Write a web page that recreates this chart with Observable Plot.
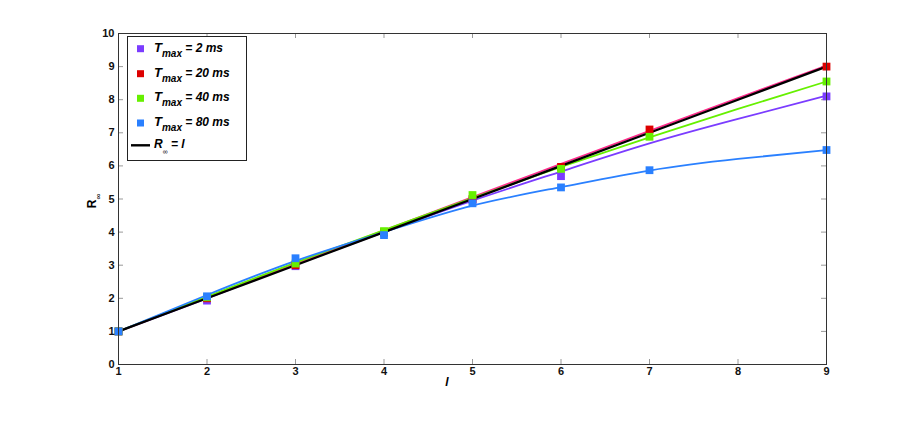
<!DOCTYPE html>
<html><head><meta charset="utf-8">
<script src="https://cdn.jsdelivr.net/npm/d3@7"></script>
<script src="https://cdn.jsdelivr.net/npm/@observablehq/plot@0.6"></script>
<style>body{margin:0;background:#fff;font-family:"Liberation Sans",Arial,sans-serif}#chart{position:relative;width:913px;height:436px}</style>
</head><body><div id="chart"></div>
<script>
// Measured points
const purpleL = [1,2,3,4,5,6,9];
const purpleR = [1.0,1.93,2.97,3.97,4.96,5.69,8.10];
const redL = [1,2,3,4,5,6,7,9];
const redR = [1.0,2.0,3.0,4.0,5.0,5.97,7.10,9.0];
const greenL = [1,2,3,4,5,6,7,9];
const greenR = [1.0,2.03,3.05,4.03,5.12,5.91,6.88,8.55];
const blueL = [1,2,3,4,5,6,7,9];
const blueR = [1.0,2.06,3.21,3.91,4.87,5.35,5.87,6.48];
// Fitted curves (read at l = 1..9)
const fitL = [1,2,3,4,5,6,7,8,9];
const purpleFit = [1.0,2.0,3.02,4.0,4.95,5.83,6.68,7.42,8.12];
const pinkFit = [1.0,2.02,3.04,4.05,5.06,6.06,7.06,8.05,9.03];
const greenFit = [1.0,2.05,3.08,4.06,5.03,5.97,6.86,7.72,8.55];
const blueFit = [1.0,2.1,3.13,4.0,4.80,5.36,5.86,6.21,6.48];
const identity = [1,2,3,4,5,6,7,8,9];
const xTicks = [1,2,3,4,5,6,7,8,9];
const yTicks = [0,1,2,3,4,5,6,7,8,9,10];
const seriesNames = ["2 ms","20 ms","40 ms","80 ms"];
const colors = ["#7b3cff","#dd0000","#66f000","#2a80ff"];
const pink = "#ff2c8c";

const W = 913, H = 436, mL = 118, mR = 87, mT = 33, mB = 72;
const pw = W - mL - mR, ph = H - mT - mB, tk = 5;

const pts = (L,R,s) => L.map((l,i)=>({l, r:R[i], s}));
const points = [...pts(purpleL,purpleR,0),...pts(redL,redR,1),...pts(greenL,greenR,2),...pts(blueL,blueR,3)];
const fits = [[purpleFit,colors[0]],[pinkFit,pink],[greenFit,colors[2]],[blueFit,colors[3]]];

const marks = [];
// inward ticks
marks.push(Plot.tickX(xTicks,{stroke:"#999",insetTop:ph-tk}));
marks.push(Plot.tickX(xTicks,{stroke:"#999",insetBottom:ph-tk}));
marks.push(Plot.tickY(yTicks,{stroke:"#999",insetRight:pw-tk}));
marks.push(Plot.tickY(yTicks,{stroke:"#999",insetLeft:pw-tk}));
for (const [f,c] of fits) marks.push(Plot.line(fitL.map((l,i)=>({l,r:f[i]})),{x:"l",y:"r",stroke:c,strokeWidth:1.8,curve:"natural"}));
marks.push(Plot.line(fitL.map((l,i)=>({l,r:identity[i]})),{x:"l",y:"r",stroke:"#000",strokeWidth:2.2}));
for (let s=0;s<4;s++) marks.push(Plot.dot(points.filter(d=>d.s===s),{x:"l",y:"r",symbol:"square",r:4.4,fill:colors[s],stroke:"none"}));
marks.push(Plot.frame({stroke:"#333",strokeWidth:1}));
marks.push(Plot.axisX(xTicks,{anchor:"bottom",tickSize:0,tickPadding:3,fontWeight:"bold",fontSize:11,fill:"#111",label:null}));
marks.push(Plot.axisY(yTicks,{anchor:"left",tickSize:0,tickPadding:4,fontWeight:"bold",fontSize:11,fill:"#111",label:null}));

const svgPlot = Plot.plot({
  width:W, height:H,
  marginLeft:mL, marginRight:mR, marginTop:mT, marginBottom:mB,
  x:{domain:[1,9]}, y:{domain:[0,10]},
  style:{fontFamily:"'Liberation Sans', Arial, sans-serif", background:"#fff"},
  marks
});
document.getElementById("chart").appendChild(svgPlot);

const svg = d3.select(svgPlot);
const font = "'Liberation Sans', Arial, sans-serif";
// axis labels
svg.append("text").attr("x",447).attr("y",386).attr("text-anchor","middle")
  .attr("font-family",font).attr("font-weight","bold").attr("font-style","italic").attr("font-size",12).text("l");
const yl = svg.append("text").attr("transform","translate(96,201) rotate(-90)").attr("text-anchor","middle")
  .attr("font-family",font).attr("font-weight","bold").attr("font-size",12);
yl.append("tspan").text("R");
yl.append("tspan").attr("dy",5).attr("font-size",8).attr("font-weight","normal").text("∞");

// legend
const lg = svg.append("g").attr("font-family",font).attr("text-anchor","start");
lg.append("rect").attr("x",127.5).attr("y",36.5).attr("width",119).attr("height",124).attr("fill","#fff").attr("stroke","#222").attr("stroke-width",1);
const rowY = [48.7,73.7,98.3,123];
seriesNames.forEach((n,i)=>{
  lg.append("rect").attr("x",137).attr("y",rowY[i]-3.5).attr("width",7).attr("height",7).attr("fill",colors[i]);
  const t = lg.append("text").attr("x",154).attr("y",rowY[i]+3).attr("text-anchor","start").attr("font-weight","bold").attr("font-style","italic").attr("font-size",13);
  t.append("tspan").text("T");
  t.append("tspan").attr("dy",5).attr("font-size",10).text("max");
  t.append("tspan").attr("dy",-5).attr("font-size",12).text(" = " + n);
});
lg.append("line").attr("x1",131).attr("x2",150).attr("y1",145.3).attr("y2",145.3).attr("stroke","#000").attr("stroke-width",2.4);
const t5 = lg.append("text").attr("x",154).attr("y",148).attr("text-anchor","start").attr("font-weight","bold").attr("font-style","italic").attr("font-size",12);
t5.append("tspan").text("R");
t5.append("tspan").attr("dy",6).attr("font-size",7).attr("font-weight","normal").attr("font-style","normal").text("∞");
t5.append("tspan").attr("dy",-6).text(" = l");
</script></body></html>
